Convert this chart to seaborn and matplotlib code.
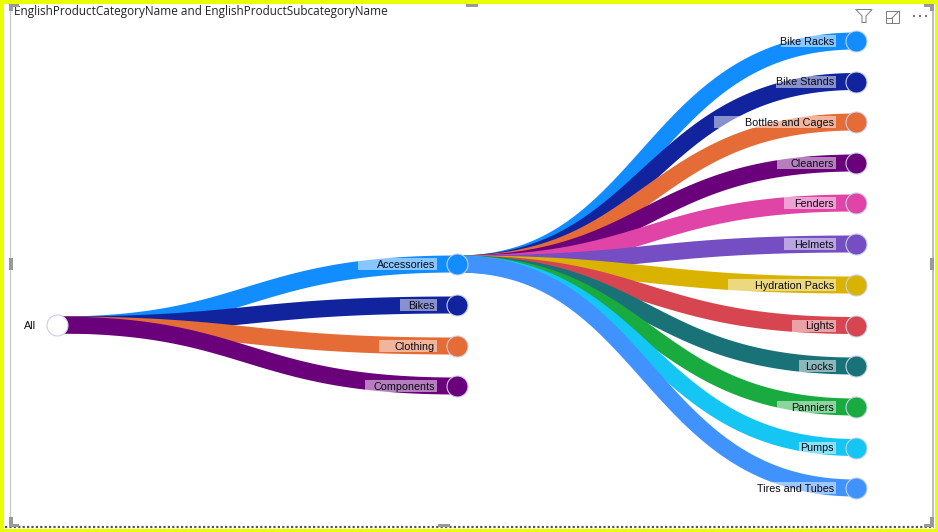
import numpy as np
import pandas as pd
import matplotlib
matplotlib.use("Agg")
import matplotlib.pyplot as plt
from matplotlib.patches import Rectangle
import seaborn as sns

TITLE = "EnglishProductCategoryName and EnglishProductSubcategoryName"
ROOT = "All"
categories = ["Accessories", "Bikes", "Clothing", "Components"]
subcategories = ["Bike Racks", "Bike Stands", "Bottles and Cages", "Cleaners", "Fenders", "Helmets",
                 "Hydration Packs", "Lights", "Locks", "Panniers", "Pumps", "Tires and Tubes"]
palette = ["#118DFF", "#12239E", "#E66C37", "#6B007B", "#E044A7", "#744EC2",
           "#D9B300", "#D64550", "#197278", "#1AAB40", "#15C6F4", "#4092FF"]

# layout in screenshot pixels
W, H = 938, 532
LEVEL_X = [57, 457, 856]
ROOT_Y = 325
CAT_Y = [264, 305, 346, 386]
SUB_Y = [41, 81.5, 122, 163, 203, 244, 285, 325.5, 366, 407, 447.5, 488]
CAT_BOX_W = [79, 37, 58, 72]
SUB_BOX_W = [55, 60, 122, 59, 52, 52, 108, 44, 37, 59, 37, 77]
PX = 72 / 100  # one pixel in points at dpi 100
LABEL_SIZE = 10.8 * PX


def draw_link(ax, x0, y0, x1, y1, color):
    t = np.linspace(0, 1, 80)
    xm = x0 + (x1 - x0) * 0.48
    xs = (1-t)**3*x0 + 3*(1-t)**2*t*xm + 3*(1-t)*t**2*xm + t**3*x1
    ys = (1-t)**3*y0 + 3*(1-t)**2*t*y0 + 3*(1-t)*t**2*y1 + t**3*y1
    sns.lineplot(x=xs, y=ys, sort=False, estimator=None, color=color, linewidth=17*PX,
                 solid_capstyle="butt", legend=False, ax=ax, zorder=2)


def draw_node(ax, x, y, color):
    sns.scatterplot(x=[x], y=[y], s=(21*PX)**2, color=color, edgecolor="#C5D0E6",
                    linewidth=1.1*PX, legend=False, ax=ax, zorder=4)


def draw_label(ax, x, y, text, box_w):
    right = x - 20
    ax.add_patch(Rectangle((right - box_w, y - 6), box_w, 12, facecolor="white", alpha=0.5,
                           edgecolor="none", zorder=3))
    ax.text(right - 2, y + 0.7, text, ha="right", va="center", fontsize=LABEL_SIZE, color="#0A0A14",
            family="Liberation Sans", zorder=5)


sns.set_theme(style="white")
fig = plt.figure(figsize=(W/100, H/100), dpi=100, facecolor="white")
ax = fig.add_axes([0, 0, 1, 1])
ax.set_xlim(0, W)
ax.set_ylim(H, 0)
ax.axis("off")

for i, y in enumerate(CAT_Y):
    draw_link(ax, LEVEL_X[0], ROOT_Y, LEVEL_X[1], y, palette[i])
for i, y in enumerate(SUB_Y):
    draw_link(ax, LEVEL_X[1], CAT_Y[0], LEVEL_X[2], y, palette[i])

draw_node(ax, LEVEL_X[0], ROOT_Y, "white")
ax.text(LEVEL_X[0] - 21, ROOT_Y + 0.7, ROOT, ha="right", va="center", fontsize=LABEL_SIZE, color="#0A0A14",
        family="Liberation Sans", zorder=5)
for i, name in enumerate(categories):
    draw_node(ax, LEVEL_X[1], CAT_Y[i], palette[i])
    draw_label(ax, LEVEL_X[1], CAT_Y[i], name, CAT_BOX_W[i])
for i, name in enumerate(subcategories):
    draw_node(ax, LEVEL_X[2], SUB_Y[i], palette[i])
    draw_label(ax, LEVEL_X[2], SUB_Y[i], name, SUB_BOX_W[i])

ax.text(14, 11, TITLE, ha="left", va="center", fontsize=11.7*PX, color="#252423", family="Open Sans", zorder=5)

# selection frame around the visual
YELLOW = "#EAFF00"
GRAY = "#999999"
for r in [(0, 0, W, 3.5), (0, 528.5, W, 3.5), (0, 0, 3.5, H), (934.5, 0, 3.5, H)]:
    ax.add_patch(Rectangle(r[:2], r[2], r[3], facecolor=YELLOW, edgecolor="none", zorder=6))
ax.plot([10, 10], [4, 525], color="#C8C8C8", lw=1.2*PX)
ax.plot([932.5, 932.5], [4, 525], color="#BDBDBD", lw=2*PX)
ax.plot([5, 934], [526.5, 526.5], color="#555555", lw=2.2*PX, ls=(0, (1, 1)))
for r in [(9, 3.5, 10, 3), (9, 3.5, 4, 7), (466, 3.5, 12, 3), (9, 258, 4, 12), (930, 258, 4, 12),
          (924, 3.5, 10, 3), (930, 3.5, 4, 7), (438, 524, 12, 3), (9, 524, 10, 3), (9, 517, 4, 8),
          (924, 524, 10, 3), (930, 517, 4, 8)]:
    ax.add_patch(Rectangle(r[:2], r[2], r[3], facecolor=GRAY, edgecolor="none", zorder=5))

# header icons: filter, focus, more
ICON = "#7F7F7F"
ax.plot([856, 872, 866, 866, 862, 862, 856], [9.5, 9.5, 16, 22.5, 22.5, 16, 9.5], color=ICON, lw=1*PX)
ax.add_patch(Rectangle((885.5, 11), 13.5, 12, fill=False, edgecolor=ICON, lw=1*PX))
ax.plot([885.5, 892, 892], [18, 18, 23], color=ICON, lw=1*PX)
ax.plot([892, 899], [18, 11], color=ICON, lw=1*PX)
ax.plot([895, 899, 899], [11, 11, 15], color=ICON, lw=1*PX)
for x in [914, 920, 926]:
    ax.add_patch(Rectangle((x - 1, 15), 2, 2, facecolor=ICON, edgecolor="none"))

fig.savefig("out.png", dpi=100, facecolor="white")
